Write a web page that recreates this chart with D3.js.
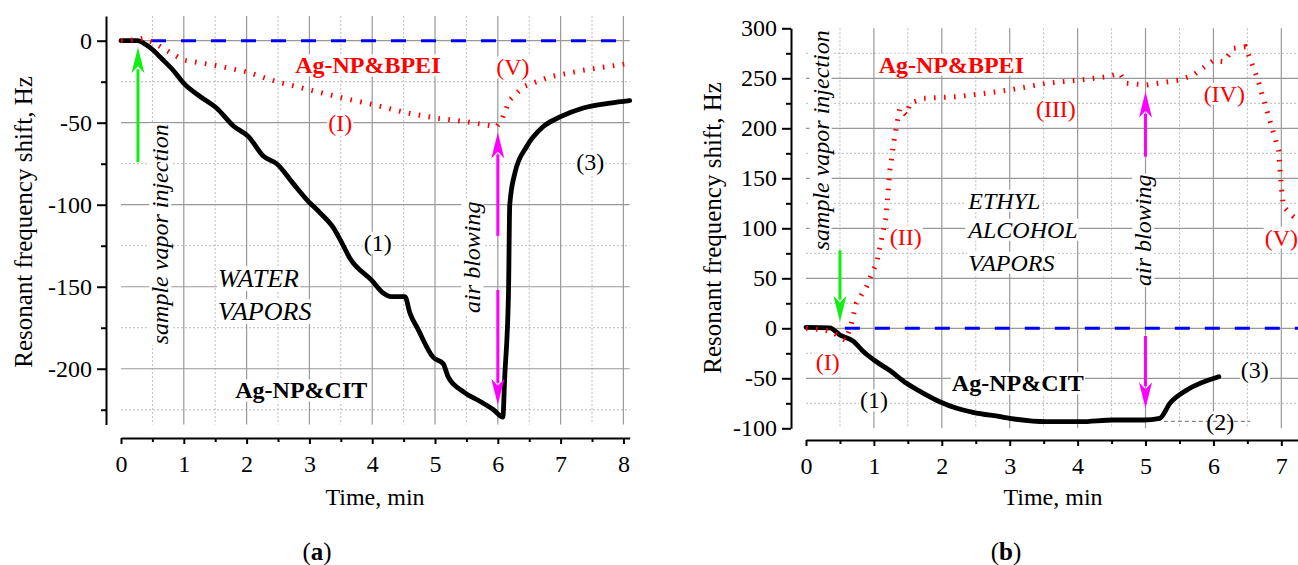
<!DOCTYPE html>
<html>
<head>
<meta charset="utf-8">
<script src="https://cdn.jsdelivr.net/npm/d3@7"></script>
<style>
  body { margin: 0; background: #fff; }
  svg { display: block; }
  text { font-family: "Liberation Serif", "Times New Roman", serif; }
</style>
</head>
<body>
<svg id="chart" width="1298" height="565"></svg>
<script>
// ---- panel (a): water vapors, [time min, shift Hz]
const citA = [[0,0],[0.26,0],[0.4,-2.5],[0.51,-5.7],[0.65,-11],[0.83,-18],[1.0,-26],[1.26,-34],
  [1.52,-41],[1.79,-52],[2.03,-58.5],[2.27,-70.5],[2.48,-75],[2.74,-87],[2.96,-97],[3.17,-105],
  [3.38,-114],[3.5,-122],[3.65,-133],[3.99,-146],[4.18,-154],[4.3,-156],[4.44,-156],[4.52,-156],[4.6,-166],
  [4.73,-176],[4.97,-193],[5.13,-197],[5.21,-205],[5.45,-214],[5.72,-220],[5.93,-225],[6.08,-229.5],
  [6.11,-205],[6.17,-154],[6.19,-100],[6.27,-81],[6.46,-64.5],[6.72,-52.5],[6.99,-46.5],[7.36,-41],
  [7.79,-38],[8.1,-36.5]];
const bpeiA = [[0,0],[0.2,0.5],[0.36,1.5],[0.51,-1],[0.67,-4.6],[0.99,-11.8],[1.47,-14.8],[2.0,-19],
  [2.48,-25],[3.0,-30],[3.54,-35],[4.02,-39],[4.55,-44],[5.03,-47.3],[5.5,-49.4],[5.98,-52.4],
  [6.06,-48.4],[6.19,-36],[6.41,-28],[6.83,-22],[7.36,-18],[8.1,-13.8]];
const baseA = [[0,0],[8.1,0]];

// ---- panel (b): ethyl alcohol vapors
const citB = [[0,1],[0.35,0.5],[0.5,-6.7],[0.7,-13],[0.84,-23],[1.0,-31.7],[1.24,-42.5],[1.48,-55],
  [1.73,-65],[1.97,-73.4],[2.22,-80],[2.46,-84],[2.86,-88.4],[3.0,-90],[3.54,-93.4],[4.04,-93.4],
  [4.53,-91.7],[4.97,-91.7],[5.21,-90],[5.36,-75],[5.61,-61.7],[6.08,-48.4]];
const bpeiB = [[0,0],[0.26,-1.5],[0.4,-4],[0.52,-10],[0.58,-12],[0.65,0],[0.74,25],[0.89,41.6],
  [0.99,58],[1.04,65],[1.11,88],[1.18,111.6],[1.23,155],[1.29,185],[1.34,205],[1.38,220],[1.48,213],
  [1.53,225],[1.73,230],[2.22,231.6],[2.71,235.6],[3.05,239],[3.54,245],[4.04,248.3],[4.43,251.6],
  [4.62,255],[4.72,245],[5.01,243.3],[5.5,248.3],[5.7,253],[6.0,268],[6.15,266.6],[6.3,280],
  [6.47,281.6],[6.64,251.6],[6.83,208],[6.96,178],[7.0,141.6],[7.03,121.6],[7.18,111.6],[7.25,108]];
const baseB = [[0.13,0],[7.25,0]];
const level2B = [[5.27,-93],[6.54,-93]];

// ticks
const xTicksA = [0,1,2,3,4,5,6,7,8];
const xMinorA = [0.5,1.5,2.5,3.5,4.5,5.5,6.5,7.5];
const yTicksA = [0,-50,-100,-150,-200];
const yMinorA = [-25,-75,-125,-175,-225];
const xTicksB = [0,1,2,3,4,5,6,7];
const xMinorB = [0.5,1.5,2.5,3.5,4.5,5.5,6.5];
const yTicksB = [300,250,200,150,100,50,0,-50,-100];
const yMinorB = [275,225,175,125,75,25,-25,-75];

// arrows [t, from, to]
const greenA = [[0.27,-74,-4]];
const magentaA = [[6,-119,-56],[6,-152,-222]];
const greenB = [[0.5,78,6.6]];
const magentaB = [[5,171.6,236.6],[5,-7.7,-80]];

// annotations [text, t, v, kind]
const notesA = [
  ["Ag-NP&BPEI",3.93,-14.8,"bpei"],["(V)",6.24,-16,"red"],["(I)",3.49,-50,"red"],
  ["(1)",4.09,-123,"blk"],["(3)",7.47,-74,"blk"],["Ag-NP&CIT",2.87,-213,"cit"],
  ["WATER",1.545,-144.7,"itl"],["VAPORS",1.545,-164.8,"itl"],
  ["sample vapor injection",0.62,-118,"rot"],["air blowing",5.59,-132,"rot"]
];
const notesB = [
  ["Ag-NP&BPEI",2.14,264,"bpei"],["(II)",1.47,92,"red"],["(III)",3.68,220,"red"],
  ["(IV)",6.16,235,"red"],["(V)",7.0,91,"red"],["(I)",0.32,-33.4,"red"],
  ["(1)",1.0,-71.7,"blk"],["(3)",6.61,-41.7,"blk"],["(2)",6.1,-93.7,"blk"],
  ["Ag-NP&CIT",3.12,-54.7,"cit"],
  ["ETHYL",2.39,128,"itl"],["ALCOHOL",2.39,99,"itl"],["VAPORS",2.39,66,"itl"],
  ["sample vapor injection",0.21,188,"rot"],["air blowing",4.96,98,"rot"]
];

const svg = d3.select("#chart");

const panels = [
  {xDomain:[0,8.1], xRange:[121,629.7], yDomain:[-234,15], yRange:[424.5,16.1],
   yAxisX:106, xAxisY:438, xTicks:xTicksA, xMinor:xMinorA, yTicks:yTicksA, yMinor:yMinorA,
   cit:citA, bpei:bpeiA, base:baseA, level2:null, green:greenA, magenta:magentaA,
   notes:notesA, itlSize:26, yTitleX:23, yTitleY:222, xTitleX:375, tag:"a", tagX:317},
  {xDomain:[0,7.25], xRange:[806,1298.3], yDomain:[-100,300], yRange:[428.3,28.3],
   yAxisX:791, xAxisY:440, xTicks:xTicksB, xMinor:xMinorB, yTicks:yTicksB, yMinor:yMinorB,
   cit:citB, bpei:bpeiB, base:baseB, level2:level2B, green:greenB, magenta:magentaB,
   notes:notesB, itlSize:24, yTitleX:712, yTitleY:228, xTitleX:1053, tag:"b", tagX:1006}
];

function drawArrow(layer, x, y0, y1, color) {
  const dir = y1 < y0 ? 1 : -1; // 1 = pointing up
  const headLen = 26, half = 6.5;
  layer.append("line")
    .attr("x1", x).attr("x2", x)
    .attr("y1", y0).attr("y2", y1 + dir * (headLen - 4))
    .attr("stroke", color).attr("stroke-width", 3);
  layer.append("path")
    .attr("d", `M${x},${y1} L${x - half},${y1 + dir * headLen} L${x},${y1 + dir * (headLen - 7)} L${x + half},${y1 + dir * headLen} Z`)
    .attr("fill", color);
}

panels.forEach(p => {
  const x = d3.scaleLinear().domain(p.xDomain).range(p.xRange);
  const y = d3.scaleLinear().domain(p.yDomain).range(p.yRange);
  const [top, bottom] = [p.yRange[1], p.yRange[0]];
  const [left, right] = p.xRange;

  const grid = svg.append("g");
  const bgLayer = svg.append("g");
  const dataLayer = svg.append("g");
  const textLayer = svg.append("g");

  // grid
  grid.selectAll(".vmin").data(p.xMinor).join("line")
    .attr("x1", d => x(d)).attr("x2", d => x(d)).attr("y1", top).attr("y2", bottom)
    .attr("stroke", "#bbb").attr("stroke-width", 1).attr("stroke-dasharray", "2,2");
  grid.selectAll(".hmin").data(p.yMinor).join("line")
    .attr("y1", d => y(d)).attr("y2", d => y(d)).attr("x1", left).attr("x2", right)
    .attr("stroke", "#bbb").attr("stroke-width", 1).attr("stroke-dasharray", "2,2");
  grid.selectAll(".vmaj").data(p.xTicks.filter(d => d > 0)).join("line")
    .attr("x1", d => x(d)).attr("x2", d => x(d)).attr("y1", top).attr("y2", bottom)
    .attr("stroke", "#999").attr("stroke-width", 1.2);
  grid.selectAll(".hmaj").data(p.yTicks.filter(d => y(d) > top + 1 && y(d) < bottom - 1)).join("line")
    .attr("y1", d => y(d)).attr("y2", d => y(d)).attr("x1", left).attr("x2", right)
    .attr("stroke", "#999").attr("stroke-width", 1.2);

  // axes
  const plain = d => String(d);
  const yAxis = svg.append("g").attr("transform", `translate(${p.yAxisX},0)`)
    .call(d3.axisLeft(y).tickValues(p.yTicks).tickFormat(plain).tickSize(9).tickPadding(5).tickSizeOuter(0));
  svg.append("g").attr("transform", `translate(${p.yAxisX},0)`)
    .call(d3.axisLeft(y).tickValues(p.yMinor).tickSize(5).tickFormat("").tickSizeOuter(0))
    .select(".domain").remove();
  const xAxis = svg.append("g").attr("transform", `translate(0,${p.xAxisY})`)
    .call(d3.axisBottom(x).tickValues(p.xTicks).tickFormat(plain).tickSize(6).tickPadding(11).tickSizeOuter(0));
  svg.append("g").attr("transform", `translate(0,${p.xAxisY})`)
    .call(d3.axisBottom(x).tickValues(p.xMinor).tickSize(4).tickFormat("").tickSizeOuter(0))
    .select(".domain").remove();
  svg.selectAll(".domain, .tick line").attr("stroke", "#000").attr("stroke-width", 2);
  [yAxis, xAxis].forEach(a => a.selectAll("text")
    .attr("font-family", "Liberation Serif").attr("font-size", 24).attr("fill", "#000"));

  // axis titles
  svg.append("text")
    .attr("transform", `translate(${p.yTitleX},${p.yTitleY}) rotate(-90)`)
    .attr("text-anchor", "middle").attr("dy", "0.35em").attr("font-size", 25)
    .text("Resonant frequency shift, Hz");
  svg.append("text")
    .attr("x", p.xTitleX).attr("y", 505).attr("text-anchor", "middle").attr("font-size", 24)
    .text("Time, min");
  const tag = svg.append("text").attr("x", p.tagX).attr("y", 560)
    .attr("text-anchor", "middle").attr("font-size", 25);
  tag.append("tspan").text("(");
  tag.append("tspan").attr("font-weight", "bold").text(p.tag);
  tag.append("tspan").text(")");

  // data lines
  const line = d3.line().x(d => x(d[0])).y(d => y(d[1]));
  const smooth = d3.line().x(d => x(d[0])).y(d => y(d[1])).curve(d3.curveMonotoneX);
  dataLayer.append("path").datum(p.base).attr("d", line)
    .attr("fill", "none").attr("stroke", "#0000ff").attr("stroke-width", 3)
    .attr("stroke-dasharray", "15,15");
  if (p.level2) {
    dataLayer.append("path").datum(p.level2).attr("d", line)
      .attr("fill", "none").attr("stroke", "#888").attr("stroke-width", 1.2)
      .attr("stroke-dasharray", "4,3");
  }
  dataLayer.append("path").datum(p.cit).attr("d", smooth)
    .attr("fill", "none").attr("stroke", "#000").attr("stroke-width", 4.8)
    .attr("stroke-linejoin", "round").attr("stroke-linecap", "round");
  dataLayer.append("path").datum(p.bpei).attr("d", line)
    .attr("fill", "none").attr("stroke", "#ff0000").attr("stroke-width", 5)
    .attr("stroke-dasharray", "1.6,8.4");

  // arrows
  p.green.forEach(a => drawArrow(dataLayer, x(a[0]), y(a[1]), y(a[2]), "#11ee11"));
  p.magenta.forEach(a => drawArrow(dataLayer, x(a[0]), y(a[1]), y(a[2]), "#ff00ff"));

  // annotations
  p.notes.forEach(([txt, t, v, kind]) => {
    const el = textLayer.append("text")
      .attr("text-anchor", kind === "itl" ? "start" : "middle")
      .attr("dy", "0.35em").text(txt);
    if (kind === "rot") {
      el.attr("transform", `translate(${x(t)},${y(v)}) rotate(-90)`)
        .attr("font-style", "italic").attr("font-size", 24);
    } else {
      el.attr("x", x(t)).attr("y", y(v));
      if (kind === "bpei") el.attr("font-weight", "bold").attr("font-size", 24).attr("fill", "#ff0000");
      if (kind === "cit") el.attr("font-weight", "bold").attr("font-size", 24).attr("fill", "#000");
      if (kind === "red") el.attr("font-size", 24).attr("fill", "#ff0000");
      if (kind === "blk") el.attr("font-size", 24).attr("fill", "#000");
      if (kind === "itl") el.attr("font-style", "italic").attr("font-size", p.itlSize).attr("fill", "#000");
    }
    const b = el.node().getBBox();
    const rect = bgLayer.append("rect")
      .attr("x", b.x - 1).attr("y", b.y + 2).attr("width", b.width + 2).attr("height", b.height - 4)
      .attr("fill", "#fff");
    if (kind === "rot") rect.attr("transform", `translate(${x(t)},${y(v)}) rotate(-90)`);
  });
});
</script>
</body>
</html>
